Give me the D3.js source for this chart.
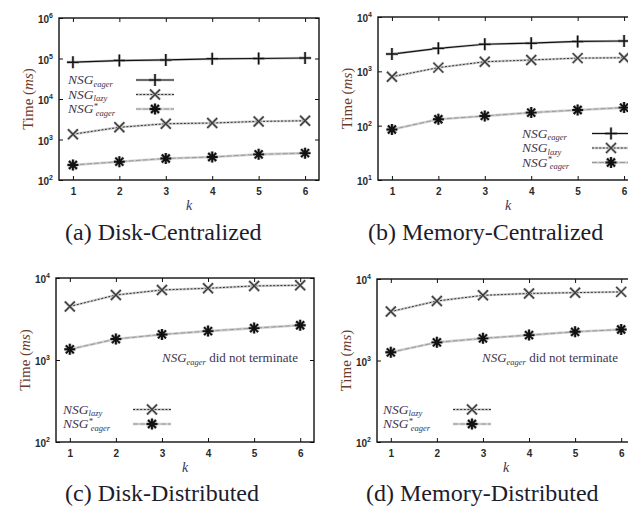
<!DOCTYPE html>
<html>
<head>
<meta charset="utf-8">
<script src="https://cdn.jsdelivr.net/npm/d3@7"></script>
<style>
    body { margin: 0; background: #fff; }
    svg { display: block; }
</style>
</head>
<body>
<svg id="chart" width="628" height="507"></svg>
<script>
// query times in ms, for k = 1..6
var kValues = [1, 2, 3, 4, 5, 6];

var diskCentEager = [81000, 89000, 92000, 98000, 100000, 103000];
var diskCentLazy  = [1350, 2000, 2450, 2550, 2800, 2900];
var diskCentStar  = [235, 283, 340, 370, 430, 460];

var memCentEager = [2080, 2650, 3150, 3300, 3550, 3620];
var memCentLazy  = [795, 1170, 1500, 1620, 1750, 1780];
var memCentStar  = [85, 131, 151, 174, 194, 215];

var diskDistLazy = [4500, 6200, 7150, 7500, 8000, 8150];
var diskDistStar = [1350, 1800, 2050, 2250, 2450, 2650];

var memDistLazy = [3980, 5370, 6300, 6650, 6800, 6950];
var memDistStar = [1260, 1670, 1870, 2050, 2250, 2400];

var yTicksA  = [1e2, 1e3, 1e4, 1e5, 1e6];
var yTicksB  = [1e1, 1e2, 1e3, 1e4];
var yTicksCD = [1e2, 1e3, 1e4];

var captions = ["(a) Disk-Centralized", "(b) Memory-Centralized",
                "(c) Disk-Distributed", "(d) Memory-Distributed"];

(function () {
    'use strict';

    var svg = d3.select("#chart");

    // panel layout (frame box, legend spot, caption spot)
    var panels = [
        { x: 59,  y: 18,  w: 260, h: 162, ticks: yTicksA,
          series: [["eager", diskCentEager], ["lazy", diskCentLazy], ["star", diskCentStar]],
          legend: { tx: 68, lx: 136, y: 80 }, cap: { x: 65, y: 240 } },
        { x: 378, y: 17,  w: 260, h: 163, ticks: yTicksB,
          series: [["eager", memCentEager], ["lazy", memCentLazy], ["star", memCentStar]],
          legend: { tx: 522, lx: 592, y: 133.5 }, cap: { x: 368, y: 240 } },
        { x: 56,  y: 278, w: 258, h: 164, ticks: yTicksCD,
          series: [["lazy", diskDistLazy], ["star", diskDistStar]],
          legend: { tx: 63, lx: 133, y: 409.5 }, cap: { x: 65, y: 501 },
          note: { x: 162, y: 362 } },
        { x: 377, y: 279, w: 258, h: 163, ticks: yTicksCD,
          series: [["lazy", memDistLazy], ["star", memDistStar]],
          legend: { tx: 383, lx: 453, y: 409.5 }, cap: { x: 366, y: 501 },
          note: { x: 482, y: 362 } }
    ];

    var styles = {
        eager: { under: "#c4c4c4", uw: 2.4, line: "#111", lw: 1.2, dash: null,  mark: "#111", mw: 1.5 },
        lazy:  { under: "#cdcdcd", uw: 2.4, line: "#333", lw: 1.0, dash: "2,1.6", mark: "#3a3a3a", mw: 1.4 },
        star:  { under: "#cfcfcf", uw: 2.6, line: "#9a9a9a", lw: 1.0, dash: "5,2", mark: "#111", mw: 1.9 }
    };

    panels.forEach(drawPanel);

    function markerPath(type) {
        var p = d3.path();
        if (type === "eager") {
            p.moveTo(-6, 0); p.lineTo(6, 0);
            p.moveTo(0, -6); p.lineTo(0, 6);
        } else if (type === "lazy") {
            p.moveTo(-5, -5); p.lineTo(5, 5);
            p.moveTo(-5, 5); p.lineTo(5, -5);
        } else {
            p.moveTo(-5.5, 0); p.lineTo(5.5, 0);
            p.moveTo(0, -5.5); p.lineTo(0, 5.5);
            p.moveTo(-4, -4); p.lineTo(4, 4);
            p.moveTo(-4, 4); p.lineTo(4, -4);
        }
        return p.toString();
    }

    function drawLine(g, pts, type) {
        var st = styles[type];
        var line = d3.line();
        g.append("path").attr("d", line(pts)).attr("fill", "none")
         .attr("stroke", st.under).attr("stroke-width", st.uw);
        g.append("path").attr("d", line(pts)).attr("fill", "none")
         .attr("stroke", st.line).attr("stroke-width", st.lw)
         .attr("stroke-dasharray", st.dash);
    }

    function drawMarker(g, x, y, type) {
        var st = styles[type];
        g.append("path").attr("d", markerPath(type))
         .attr("transform", "translate(" + x + "," + y + ")")
         .attr("fill", "none").attr("stroke", "#bbb").attr("stroke-width", st.mw + 1.4);
        g.append("path").attr("d", markerPath(type))
         .attr("transform", "translate(" + x + "," + y + ")")
         .attr("fill", "none").attr("stroke", st.mark).attr("stroke-width", st.mw);
    }

    // NSG with sub/superscripts
    function nsgLabel(t, type) {
        t.append("tspan").text("NSG");
        if (type === "star") {
            t.append("tspan").attr("font-size", 8.5).attr("dy", -4.5).text("*");
            t.append("tspan").attr("font-size", 8.5).attr("dx", -2).attr("dy", 7).text("eager");
        } else {
            t.append("tspan").attr("font-size", 8.5).attr("dy", 2.5)
             .text(type === "eager" ? "eager" : "lazy");
        }
    }

    function drawPanel(p, idx) {
        var x = d3.scaleLinear().domain([0.7, 6.3]).range([p.x, p.x + p.w]);
        var y = d3.scaleLog()
                  .domain([p.ticks[0], p.ticks[p.ticks.length - 1]])
                  .range([p.y + p.h, p.y]);

        var g = svg.append("g");

        // axes: inward ticks on all four sides
        var bottom = g.append("g").attr("transform", "translate(0," + (p.y + p.h) + ")")
            .call(d3.axisBottom(x).tickValues(kValues).tickSize(-4).tickPadding(8)
                  .tickFormat(d3.format("d")));
        g.append("g").attr("transform", "translate(0," + p.y + ")")
            .call(d3.axisTop(x).tickValues(kValues).tickSize(-4).tickFormat(""));
        var left = g.append("g").attr("transform", "translate(" + p.x + ",0)")
            .call(d3.axisLeft(y).tickValues(p.ticks).tickSize(-4).tickPadding(8).tickFormat(""));
        g.append("g").attr("transform", "translate(" + (p.x + p.w) + ",0)")
            .call(d3.axisRight(y).tickValues(p.ticks).tickSize(-4).tickFormat(""));

        g.selectAll(".domain").remove();
        g.selectAll(".tick line").attr("stroke", "#111").attr("stroke-width", 1);

        bottom.selectAll(".tick text")
              .attr("font-family", "Liberation Sans, Arial, sans-serif")
              .attr("font-weight", "bold").attr("font-size", 10).attr("fill", "#2a2a2a");

        // 10^n tick labels
        left.selectAll(".tick").each(function (d) {
            var t = d3.select(this).select("text")
                      .attr("x", -6).attr("dy", "0.45em")
                      .attr("font-family", "Liberation Sans, Arial, sans-serif")
                      .attr("font-weight", "bold").attr("font-size", 10).attr("fill", "#2a2a2a");
            t.text(null);
            t.append("tspan").text("10");
            t.append("tspan").attr("font-size", 7).attr("dy", -5)
             .text(Math.round(Math.log10(d)));
        });

        g.append("rect").attr("x", p.x).attr("y", p.y).attr("width", p.w).attr("height", p.h)
         .attr("fill", "none").attr("stroke", "#111").attr("stroke-width", 1.4);

        // series
        p.series.forEach(function (s) {
            var pts = kValues.map(function (k, i) { return [x(k), y(s[1][i])]; });
            drawLine(g, pts, s[0]);
            pts.forEach(function (pt) { drawMarker(g, pt[0], pt[1], s[0]); });
        });

        // legend
        p.series.forEach(function (s, i) {
            var ly = p.legend.y + i * 14.5;
            drawLine(g, [[p.legend.lx, ly], [p.legend.lx + 38, ly]], s[0]);
            drawMarker(g, p.legend.lx + 19, ly, s[0]);
            var t = g.append("text").attr("x", p.legend.tx).attr("y", ly + 4)
                     .attr("font-family", "Liberation Serif, Times New Roman, serif")
                     .attr("font-style", "italic").attr("font-size", 13.5).attr("fill", "#3d3450");
            nsgLabel(t, s[0]);
        });

        if (p.note) {
            var n = g.append("text").attr("x", p.note.x).attr("y", p.note.y)
                     .attr("font-family", "Liberation Serif, Times New Roman, serif")
                     .attr("font-size", 13).attr("fill", "#3d3450");
            n.append("tspan").attr("font-style", "italic").text("NSG");
            n.append("tspan").attr("font-style", "italic").attr("font-size", 8.5).attr("dy", 3).text("eager");
            n.append("tspan").attr("dy", -3).text(" did not terminate");
        }

        // axis titles
        var yl = g.append("text")
            .attr("transform", "translate(" + (p.x - 26.5) + "," + (p.y + p.h / 2) + ") rotate(-90)")
            .attr("text-anchor", "middle")
            .attr("font-family", "Liberation Serif, Times New Roman, serif")
            .attr("font-size", 15).attr("fill", "#6a3b2c");
        yl.append("tspan").text("Time (");
        yl.append("tspan").attr("font-style", "italic").text("ms");
        yl.append("tspan").text(")");

        g.append("text").attr("x", p.x + p.w / 2).attr("y", p.y + p.h + 30)
         .attr("text-anchor", "middle")
         .attr("font-family", "Liberation Serif, Times New Roman, serif")
         .attr("font-style", "italic").attr("font-size", 14).attr("fill", "#3d3450")
         .text("k");

        g.append("text").attr("x", p.cap.x).attr("y", p.cap.y)
         .attr("font-family", "Liberation Serif, Times New Roman, serif")
         .attr("font-size", 24).attr("fill", "#1c1c2c")
         .text(captions[idx]);
    }
})();
</script>
</body>
</html>
